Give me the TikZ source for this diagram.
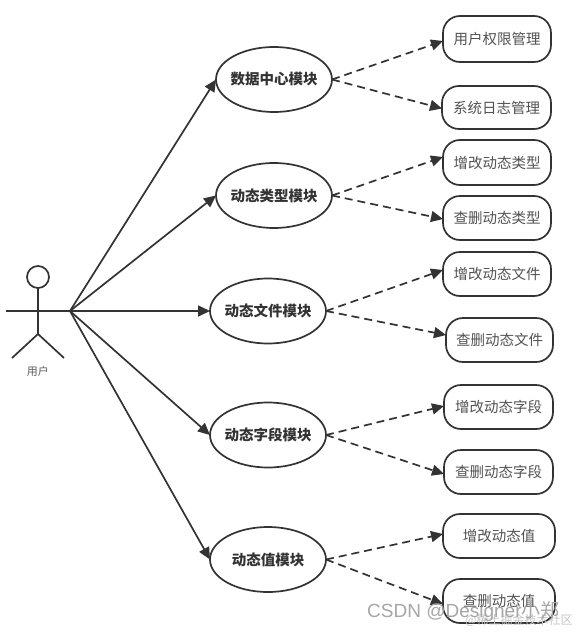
\documentclass[tikz,border=0pt]{standalone}
\usepackage{fontspec}
\usetikzlibrary{shapes.geometric,arrows.meta}
\newfontfamily\cjk{Noto Sans CJK SC}
\definecolor{ink}{HTML}{333333}
\newcommand\modlabel[1]{\makebox[0pt]{#1}}
\tikzset{
  module/.style={ellipse,draw=ink,line width=1.7pt,fill=white,minimum width=116pt,minimum height=65pt,inner sep=0pt,outer sep=0pt,text=ink,font=\cjk\bfseries\fontsize{14.5}{16}\selectfont},
  task/.style={rectangle,rounded corners=17pt,draw=ink,line width=1.7pt,fill=white,minimum width=108pt,minimum height=44pt,inner sep=0pt,outer sep=0pt,text=ink!85,font=\cjk\fontsize{14.5}{16}\selectfont},
  limb/.style={draw=ink,line width=1.7pt},
  solidarrow/.style={draw=ink,line width=1.7pt,-{Triangle[length=12pt,width=11pt]}},
  dasharrow/.style={draw=ink,line width=1.7pt,dash pattern=on 8pt off 5pt,-{Triangle[length=12pt,width=11pt]}},
  mark text/.style={inner sep=0pt,text=gray!70,font=\fontspec{Liberation Sans}\fontsize{19}{21}\selectfont}
}
\begin{document}
\begin{tikzpicture}[x=1pt,y=-1pt]
\useasboundingbox (0,0) rectangle (576,632);
% actor
\node[circle,draw=ink,line width=1.7pt,minimum size=22pt,inner sep=0pt,outer sep=0pt] (head) at (38,277) {};
\coordinate (hip) at (38,334);
\coordinate (armL) at (6,311);
\coordinate (hub) at (70,311);
\coordinate (legL) at (12,358);
\coordinate (legR) at (64,358);
\draw[limb] (head.south) -- (hip);
\draw[limb] (armL) -- (hub);
\draw[limb] (legL) -- (hip) -- (legR);
\node[inner sep=0pt,text=ink!80,font=\cjk\fontsize{11}{12}\selectfont] (actorlabel) at (38,371) {用户};
% modules
\node[module] (m1) at (274,79.5) {\modlabel{数据中心模块}};
\node[module] (m2) at (274,195.5) {\modlabel{动态类型模块}};
\node[module] (m3) at (268,311) {\modlabel{动态文件模块}};
\node[module] (m4) at (268,435) {\modlabel{动态字段模块}};
\node[module] (m5) at (268,559.5) {\modlabel{动态值模块}};
% tasks
\node[task,minimum height=46pt] (b1) at (497,39) {用户权限管理};
\node[task,minimum width=109pt,minimum height=43pt] (b2) at (496.5,107.5) {系统日志管理};
\node[task,minimum height=45pt] (b3) at (497,162.5) {增改动态类型};
\node[task] (b4) at (497,218) {查删动态类型};
\node[task] (b5) at (497,274) {增改动态文件};
\node[task,minimum width=107pt] (b6) at (499.5,340) {查删动态文件};
\node[task,minimum width=109pt] (b7) at (498.5,407) {增改动态字段};
\node[task,minimum width=109pt] (b8) at (498.5,472) {查删动态字段};
\node[task,minimum width=112pt] (b9) at (499,536) {增改动态值};
\node[task,minimum width=112pt] (b10) at (499,601) {查删动态值};
% solid arrows
\foreach \m in {m1,m2,m3,m4,m5} \draw[solidarrow] (hub) -- (\m.west);
% dashed arrows
\draw[dasharrow] (m1.east) -- ([yshift=-2pt]b1.west);
\draw[dasharrow] (m1.east) -- ([yshift=-1pt]b2.west);
\draw[dasharrow] (m2.east) -- ([yshift=5.5pt]b3.west);
\draw[dasharrow] (m2.east) -- ([yshift=-1pt]b4.west);
\draw[dasharrow] (m3.east) -- ([yshift=4pt]b5.west);
\draw[dasharrow] (m3.east) -- ([yshift=5pt]b6.west);
\draw[dasharrow] (m4.east) -- ([yshift=1pt]b7.west);
\draw[dasharrow] (m4.east) -- ([yshift=-2pt]b8.west);
\draw[dasharrow] (m5.east) -- ([yshift=2pt]b9.west);
\draw[dasharrow] (m5.east) -- ([yshift=-3pt]b10.west);
% watermark
\node[anchor=west,inner sep=0pt,text=gray!45,font=\cjk\fontsize{12}{13}\selectfont] (wm2) at (465,620) {@稀土掘金技术社区};
\node[mark text,anchor=west] (wm1) at (367,612) {CSDN @Designer\cjk 小郑};
\end{tikzpicture}
\end{document}
